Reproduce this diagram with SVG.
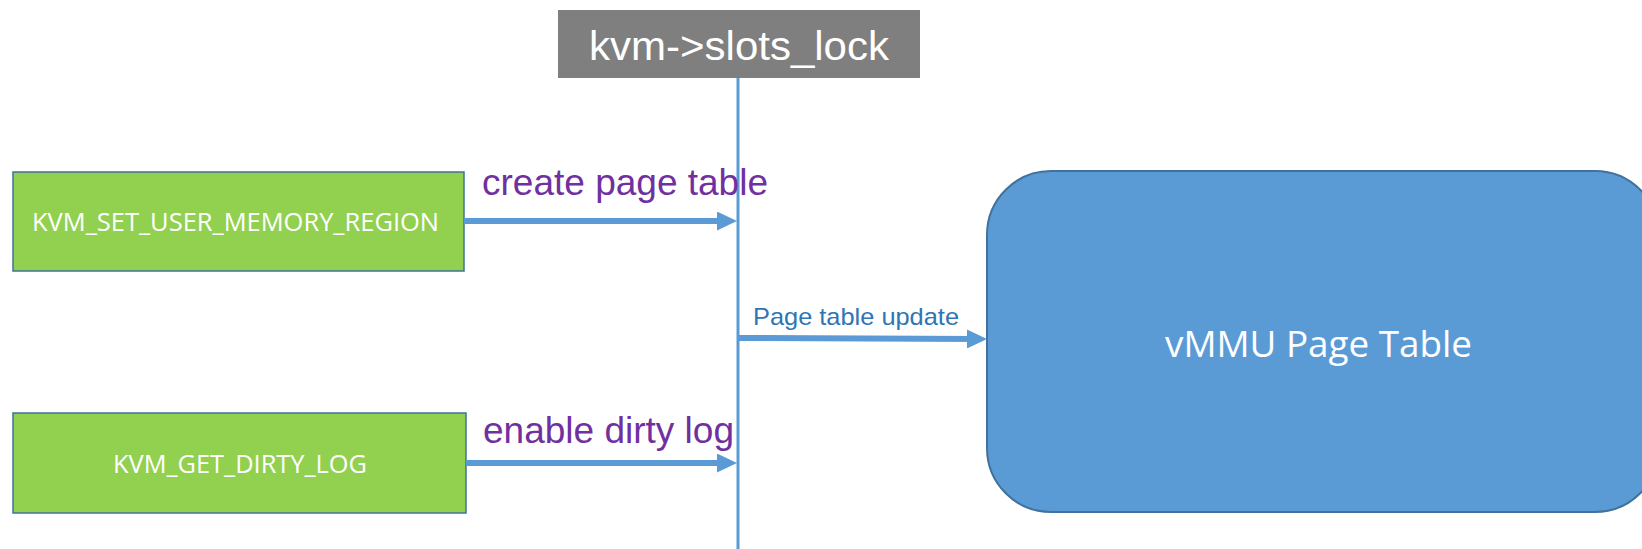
<svg xmlns="http://www.w3.org/2000/svg" width="1642" height="549" viewBox="0 0 1642 549">
  <style>
    .ioctl { fill: #92D050; stroke: #41719C; stroke-width: 1.5; }
    .ioctl-text { font-family: "Open Sans", "Noto Sans", sans-serif; font-size: 26px; fill: #FFFFFF; }
    .op-label { font-family: "Liberation Sans", Arial, sans-serif; font-size: 36px; fill: #7030A0; }
    .flow { stroke: #5B9BD5; stroke-width: 6; fill: none; }
  </style>
  <defs>
    <marker id="head" markerUnits="userSpaceOnUse" markerWidth="20" markerHeight="19" refX="10" refY="9.5" orient="auto">
      <path d="M0,0 L20,9.5 L0,19 z" fill="#5B9BD5"/>
    </marker>
  </defs>

  <rect width="1642" height="549" fill="#FFFFFF"/>

  <!-- lock header and its timeline -->
  <g id="slots-lock">
    <rect x="558" y="10" width="362" height="68" fill="#7F7F7F"/>
    <text x="739" y="60" text-anchor="middle" font-family="Liberation Sans, Arial, sans-serif" font-size="41" fill="#FFFFFF" textLength="300" lengthAdjust="spacingAndGlyphs">kvm-&gt;slots_lock</text>
  </g>

  <g id="set-user-memory-region">
    <rect class="ioctl" x="13" y="172" width="451" height="99"/>
    <text class="ioctl-text" x="32" y="231" textLength="407" lengthAdjust="spacingAndGlyphs">KVM_SET_USER_MEMORY_REGION</text>
  </g>

  <g id="get-dirty-log">
    <rect class="ioctl" x="13" y="413" width="453" height="100"/>
    <text class="ioctl-text" x="113" y="473" textLength="254" lengthAdjust="spacingAndGlyphs">KVM_GET_DIRTY_LOG</text>
  </g>

  <g id="vmmu-page-table">
    <rect x="987" y="171" width="672" height="341" rx="64" ry="64" fill="#5B9BD5" stroke="#41719C" stroke-width="2"/>
    <text x="1165" y="357" font-family="Open Sans, Noto Sans, sans-serif" font-size="36" fill="#FFFFFF" textLength="307" lengthAdjust="spacingAndGlyphs">vMMU Page Table</text>
  </g>

  <g id="connectors">
    <line x1="738" y1="78" x2="738" y2="549" stroke="#5B9BD5" stroke-width="3"/>
    <line class="flow" x1="464" y1="221" x2="727" y2="221" marker-end="url(#head)"/>
    <line class="flow" x1="466" y1="463" x2="727" y2="463" marker-end="url(#head)"/>
    <line class="flow" x1="739" y1="338" x2="977" y2="339" marker-end="url(#head)"/>
    <text class="op-label" x="482" y="195" textLength="286" lengthAdjust="spacingAndGlyphs">create page table</text>
    <text class="op-label" x="483" y="443" textLength="251" lengthAdjust="spacingAndGlyphs">enable dirty log</text>
    <text x="753" y="325" font-family="Liberation Sans, Arial, sans-serif" font-size="24" fill="#2E75B6" textLength="206" lengthAdjust="spacingAndGlyphs">Page table update</text>
  </g>
</svg>
